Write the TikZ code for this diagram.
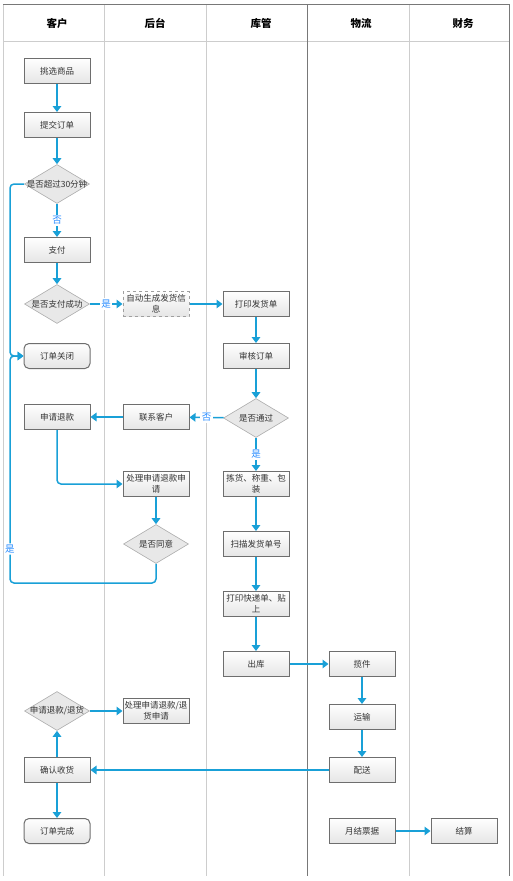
\documentclass[tikz,border=0pt]{standalone}
\usepackage{fontspec}
\setmainfont{Noto Sans CJK SC}
\usetikzlibrary{positioning, arrows.meta, shapes.geometric, shapes.misc}
\definecolor{flowblue}{RGB}{25,160,215}
\definecolor{lblblue}{RGB}{40,140,255}
\definecolor{boxedge}{RGB}{110,110,110}
\definecolor{laneline}{RGB}{205,205,205}
\definecolor{frameline}{RGB}{120,120,120}
\newcommand{\dtxt}[1]{\makebox[0pt][c]{#1}}
\tikzset{
    task/.style={rectangle, draw=boxedge, top color=white, bottom color=gray!20, line width=1pt, minimum width=66pt, minimum height=25pt, text width=64pt, align=center, font=\fontsize{8.5}{11}\selectfont, text=black!80, inner sep=1pt},
    taskdash/.style={task, draw=gray!75, dashed},
    termbox/.style={task, rounded corners=5pt},
    decide/.style={diamond, draw=gray!65, fill=gray!18, line width=0.6pt, minimum width=65pt, minimum height=39pt, inner sep=0pt, align=center, font=\fontsize{8.5}{11}\selectfont, text=black!80},
    flow/.style={-{Triangle[length=6pt, width=8.5pt]}, line width=1.5pt, color=flowblue},
    yn/.style={font=\fontsize{9.5}{11}\selectfont, text=lblblue, fill=white, inner sep=1.5pt},
    lanehead/.style={font=\fontsize{10.5}{12}\selectfont\bfseries}
}

\begin{document}
\begin{tikzpicture}[x=1pt, y=-1pt]
    \useasboundingbox (0,0) rectangle (513,881);
    % lanes
    \draw[laneline, line width=0.8pt] (3,41) -- (509,41);
    \draw[laneline, line width=0.8pt] (3,4) -- (3,876);
    \foreach \x in {104,206,409}
      \draw[laneline, line width=0.8pt] (\x,4) -- (\x,876);
    \draw[frameline, line width=0.8pt] (307,4) -- (307,876);
    \draw[frameline, line width=0.8pt] (3,4) -- (509,4) -- (509,876);
    \node[lanehead] (hcust) at (57,23) {客户};
    \node[lanehead] (hback) at (155,23) {后台};
    \node[lanehead] (hstore) at (261,23) {库管};
    \node[lanehead] (hlog) at (361,23) {物流};
    \node[lanehead] (hfin) at (463,23) {财务};

    % customer
    \node[task] (pick) at (57,71) {挑选商品};
    \node[task] (submit) at (57,125) {提交订单};
    \node[decide] (timeout) at (57,184) {\dtxt{是否超过30分钟}};
    \node[task] (pay) at (57,250) {支付};
    \node[decide] (paid) at (57,304) {\dtxt{是否支付成功}};
    \node[termbox] (closed) at (57,356) {订单关闭};
    \node[task] (refund) at (57,417) {申请退款};
    \node[decide] (retq) at (57,711) {\dtxt{申请退款/退货}};
    \node[task] (confirm) at (57,770) {确认收货};
    \node[termbox] (done) at (57,831) {订单完成};

    % back office
    \node[taskdash] (autogen) at (156,304) {自动生成发货信\\息};
    \node[task] (contact) at (156,417) {联系客户};
    \node[task] (handle) at (156,484) {处理申请退款申\\请};
    \node[decide] (agree) at (156,544) {\dtxt{是否同意}};
    \node[task] (handle2) at (156,711) {处理申请退款/退\\货申请};

    % warehouse
    \node[task] (printship) at (256,304) {打印发货单};
    \node[task] (audit) at (256,356) {审核订单};
    \node[decide] (pass) at (256,418) {\dtxt{是否通过}};
    \node[task] (pack) at (256,484) {拣货、称重、包\\装};
    \node[task] (scan) at (256,544) {扫描发货单号};
    \node[task] (label) at (256,604) {打印快递单、贴\\上};
    \node[task] (out) at (256,664) {出库};

    % logistics / finance
    \node[task] (pickup) at (362,664) {揽件};
    \node[task] (trans) at (362,717) {运输};
    \node[task] (deliver) at (362,770) {配送};
    \node[task] (bill) at (362,831) {月结票据};
    \node[task] (settle) at (464,831) {结算};

    \coordinate (loopin) at (10,356);
    \coordinate (loopbot) at (10,583);

    \draw[flow] (pick) -- (submit);
    \draw[flow] (submit) -- (timeout);
    \draw[flow] (timeout) -- node[yn]{否} (pay);
    \draw[flow] (pay) -- (paid);
    \draw[flow] (paid) -- node[yn]{是} (autogen);
    \draw[flow] (autogen) -- (printship);
    \draw[flow] (printship) -- (audit);
    \draw[flow] (audit) -- (pass);
    \draw[flow] (pass) -- node[yn]{否} (contact);
    \draw[flow] (contact) -- (refund);
    \draw[flow] (pass) -- node[yn]{是} (pack);
    \draw[flow, rounded corners=4pt] (refund) |- (handle);
    \draw[flow] (handle) -- (agree);
    \draw[flow, rounded corners=4pt] (timeout.west) -| (loopin) -- (closed.west);
    \draw[flow, rounded corners=4pt] (agree) |- (loopbot) -- node[yn, pos=0.15]{是} (loopin) -- (closed.west);
    \draw[flow] (pack) -- (scan);
    \draw[flow] (scan) -- (label);
    \draw[flow] (label) -- (out);
    \draw[flow] (out) -- (pickup);
    \draw[flow] (pickup) -- (trans);
    \draw[flow] (trans) -- (deliver);
    \draw[flow] (deliver) -- (confirm);
    \draw[flow] (confirm) -- (retq);
    \draw[flow] (confirm) -- (done);
    \draw[flow] (retq) -- (handle2);
    \draw[flow] (bill) -- (settle);
\end{tikzpicture}
\end{document}
